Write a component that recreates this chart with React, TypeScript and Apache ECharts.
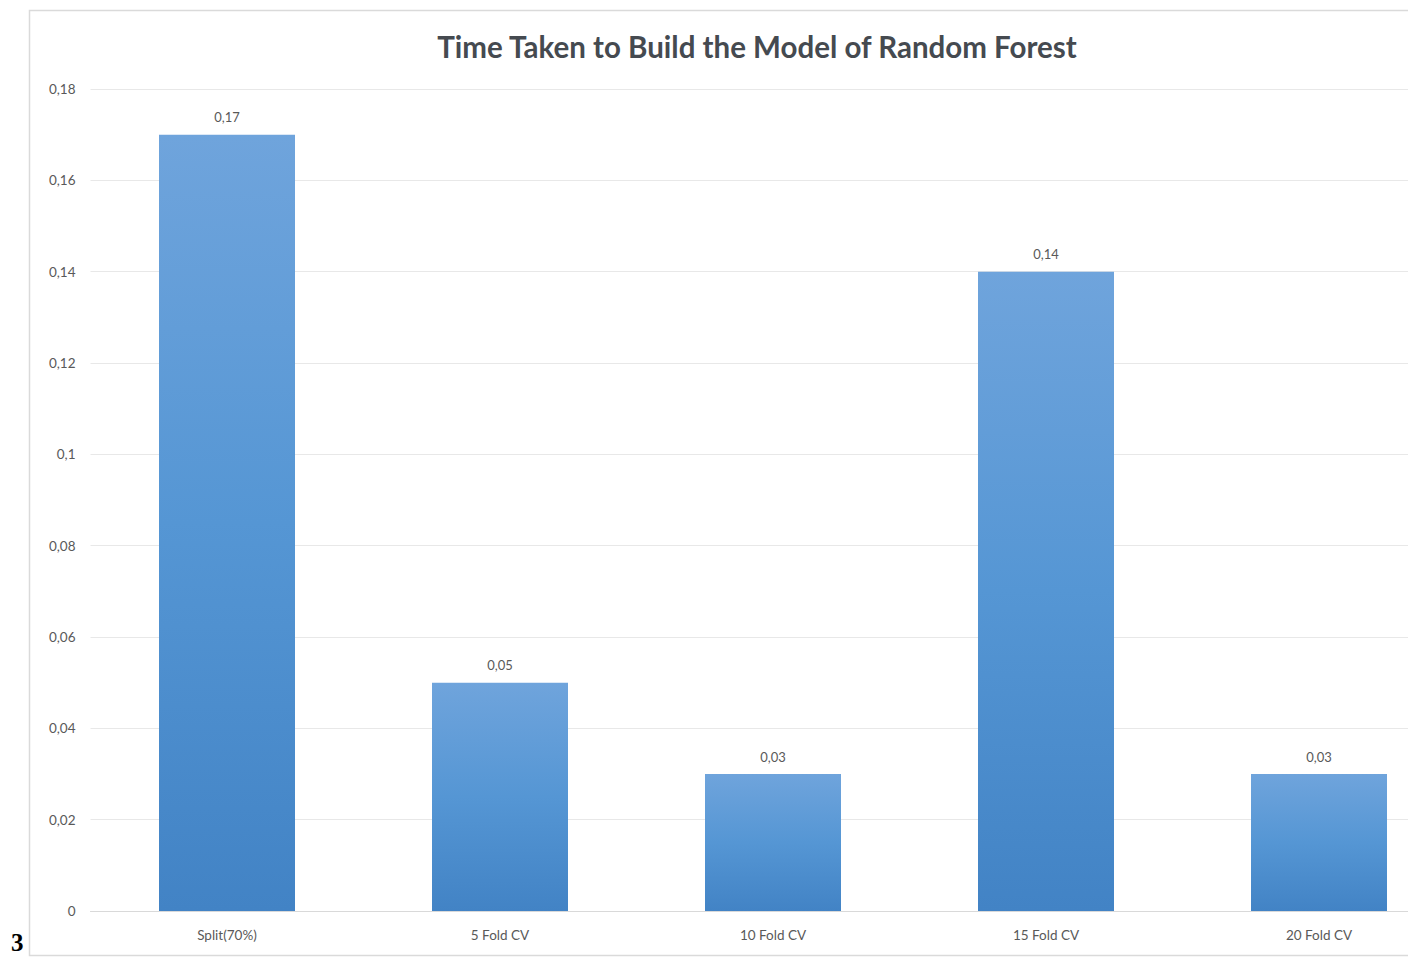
import React, { useEffect, useRef } from "react";
import * as echarts from "echarts";

const categories = ["Split(70%)", "5 Fold CV", "10 Fold CV", "15 Fold CV", "20 Fold CV"];
const buildTimes = [0.17, 0.05, 0.03, 0.14, 0.03];
const yMin = 0;
const yMax = 0.18;
const yStep = 0.02;
const titleText = "Time Taken to Build the Model of Random Forest";
const figureNumber = "3";

const fmt = (v: number) => String(parseFloat(v.toFixed(2))).replace(".", ",");

export default function App() {
  const ref = useRef<HTMLDivElement>(null);
  useEffect(() => {
    document.body.style.margin = "0";
    const chart = echarts.init(ref.current!, null, { renderer: "svg" });
    const font = "Lato, 'Open Sans', sans-serif";
    chart.setOption({
      animation: false,
      backgroundColor: "#ffffff",
      textStyle: { fontFamily: font },
      title: {
        text: titleText,
        left: 752,
        top: 26,
        textAlign: "center",
        textStyle: { fontFamily: font, fontSize: 29.5, fontWeight: "bold", color: "#454a50" },
      },
      grid: { left: 90.5, right: 44.5, top: 89, bottom: 47 },
      xAxis: {
        type: "category",
        data: categories,
        axisLine: { lineStyle: { color: "#d9d9d9" } },
        axisTick: { show: false },
        axisLabel: { color: "#595959", fontSize: 13.5, margin: 17, fontFamily: font },
      },
      yAxis: {
        type: "value",
        min: yMin,
        max: yMax,
        interval: yStep,
        axisLine: { show: false },
        axisTick: { show: false },
        splitLine: { lineStyle: { color: "#e8e8e8" } },
        axisLabel: { color: "#595959", fontSize: 13.5, margin: 15, formatter: (v: number) => fmt(v), fontFamily: font },
      },
      series: [
        {
          type: "bar",
          data: buildTimes,
          barWidth: 136,
          itemStyle: {
            color: new echarts.graphic.LinearGradient(0, 0, 0, 1, [
              { offset: 0, color: "#6fa4dc" },
              { offset: 0.5, color: "#5596d4" },
              { offset: 1, color: "#4283c5" },
            ]),
          },
          label: {
            show: true,
            position: "top",
            distance: 11,
            color: "#595959",
            fontSize: 13,
            fontFamily: font,
            formatter: (p: any) => fmt(p.value),
          },
        },
      ],
      graphic: [
        {
          type: "rect",
          shape: { x: 29.5, y: 10.5, width: 1600, height: 945 },
          style: { fill: "none", stroke: "#dadada", lineWidth: 1.5 },
          silent: true,
          z: -1,
        },
        {
          type: "text",
          x: 11,
          y: 930,
          style: {
            text: figureNumber,
            font: "bold 25px 'Liberation Serif', 'DejaVu Serif', serif",
            fill: "#000000",
          },
        },
      ],
    });
    return () => chart.dispose();
  }, []);
  return (
    <div style={{ position: "fixed", left: 0, top: 0, width: 1408, height: 958, overflow: "hidden", background: "#fff" }}>
      <div ref={ref} style={{ width: 1500, height: 958 }} />
    </div>
  );
}
